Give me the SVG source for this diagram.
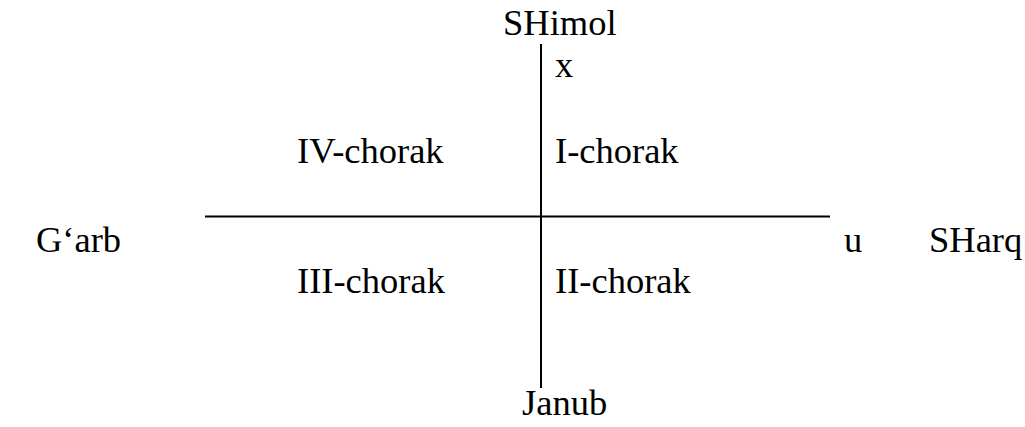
<svg xmlns="http://www.w3.org/2000/svg" width="1025" height="427" viewBox="0 0 1025 427">
<style>
text{font-family:"Liberation Serif","Times New Roman",serif;font-size:36.5px;fill:#000}
.ax{stroke:#000;stroke-width:2;fill:none}
</style>
<rect width="1025" height="427" fill="#fff"/>
<g id="axes">
<line class="ax" x1="541" y1="44" x2="541" y2="388"/>
<line class="ax" x1="205" y1="216.5" x2="830" y2="216.5"/>
</g>
<g id="north"><text x="503" y="35">SHimol</text></g>
<g id="x-label"><text x="555" y="77">x</text></g>
<g id="q4"><text x="297" y="163">IV-chorak</text></g>
<g id="q1"><text x="555" y="163">I-chorak</text></g>
<g id="west"><text x="36" y="252">G‘arb</text></g>
<g id="u-label"><text x="844" y="252">u</text></g>
<g id="east"><text x="929" y="252">SHarq</text></g>
<g id="q3"><text x="297" y="293">III-chorak</text></g>
<g id="q2"><text x="555" y="293">II-chorak</text></g>
<g id="south"><text x="522" y="415">Janub</text></g>
</svg>
